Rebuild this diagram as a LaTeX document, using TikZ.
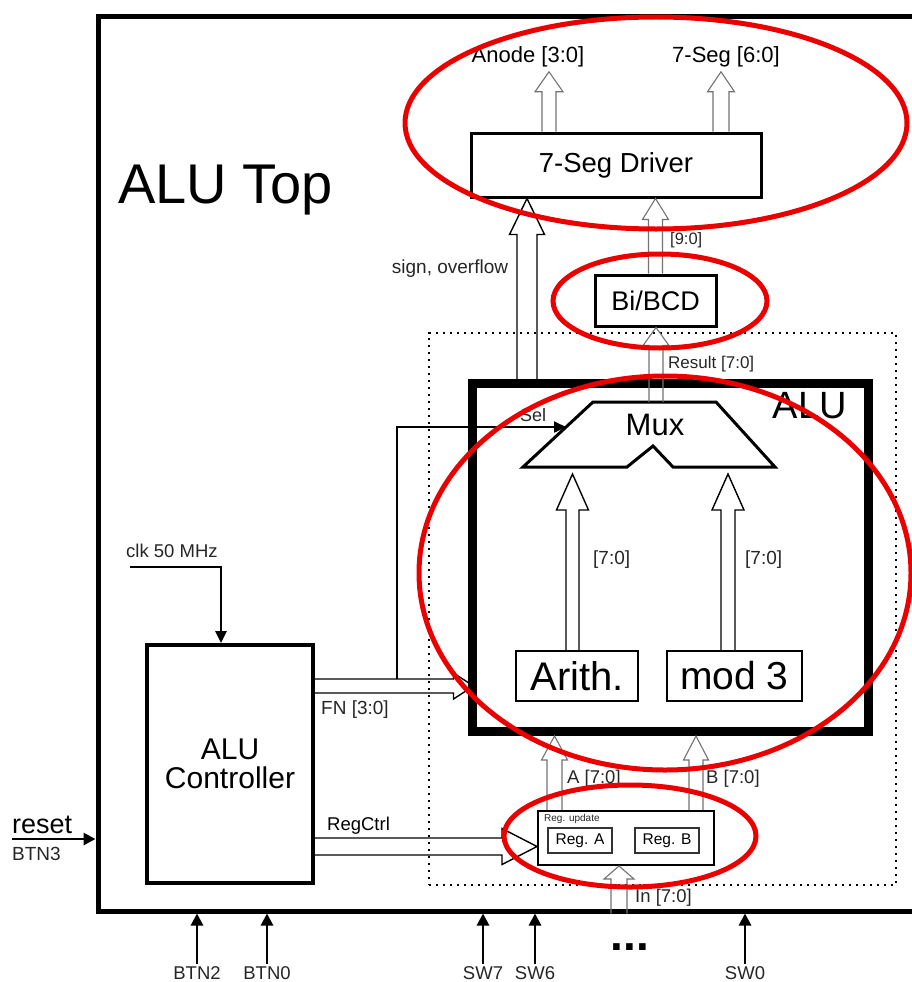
\documentclass[tikz,border=0pt]{standalone}
\usepackage{fontspec}
\setmainfont{Liberation Sans}
\usetikzlibrary{arrows.meta,calc}
\definecolor{annotred}{RGB}{235,0,0}
\newcommand\fsz[1]{\fontsize{#1}{#1}\selectfont}
% vertical upward hollow bus arrow: [style]{from}{to}{half shaft}{half head}{head length}
\newcommand\busup[6][busline]{\draw[#1] let \p1=#2, \p2=#3 in
  (\x1-#4pt,\y1) -- (\x1-#4pt,\y2-#6pt) -- (\x1-#5pt,\y2-#6pt) -- (\x1,\y2)
  -- (\x1+#5pt,\y2-#6pt) -- (\x1+#4pt,\y2-#6pt) -- (\x1+#4pt,\y1);}
% horizontal rightward hollow bus arrow
\newcommand\busright[6][busline]{\draw[#1] let \p1=#2, \p2=#3 in
  (\x1,\y1+#4pt) -- (\x2-#6pt,\y1+#4pt) -- (\x2-#6pt,\y1+#5pt) -- (\x2,\y1)
  -- (\x2-#6pt,\y1-#5pt) -- (\x2-#6pt,\y1-#4pt) -- (\x1,\y1-#4pt);}
\tikzset{
  busline/.style={draw=black!55, line width=1.1pt, line join=miter},
  busdark/.style={draw=black, line width=1.4pt, line join=miter},
  lbl/.style={inner sep=0pt, text=black!85},
  sig/.style={line width=2.8pt, -{Triangle[width=12pt,length=12pt]}},
  annot/.style={draw=annotred, line width=5pt},
  dotline/.style={draw, line width=2.5pt, dash pattern=on 2.2pt off 4.8pt},
}
\begin{document}
\begin{tikzpicture}[x=1pt,y=-1pt]
\fill[white] (0,0) rectangle (911,982);
\useasboundingbox (0,0) rectangle (911,982);

% outer block
\node[draw, line width=5pt, minimum width=840pt, minimum height=894pt, inner sep=0pt] (top) at (518,464) {};
\node[inner sep=0pt, anchor=base west, font=\fsz{56}] (toplbl) at (118,203) {ALU Top};

% dotted ALU region
\node[dotline, minimum width=467pt, minimum height=552pt, inner sep=0pt] (region) at (662.5,609) {};

% 7-seg driver
\node[draw, line width=3pt, minimum width=290pt, minimum height=64pt, inner sep=0pt, font=\fsz{27.5}] (drv) at (616,165) {7-Seg Driver};
\node[inner sep=0pt, anchor=base, font=\fsz{22}] (anode) at (528,63) {Anode [3:0]};
\node[inner sep=0pt, anchor=base, font=\fsz{22}] (sevseg) at (726,63) {7-Seg [6:0]};

% Bi/BCD
\node[draw, line width=3pt, minimum width=121pt, minimum height=51pt, inner sep=0pt, font=\fsz{27}] (bibcd) at (655.5,300.5) {Bi/BCD};

% ALU block
\node[draw, line width=9pt, minimum width=396pt, minimum height=348pt, inner sep=0pt] (alu) at (670,557.5) {};
\node[inner sep=0pt, anchor=base east, font=\fsz{38}] (alulbl) at (847,418) {ALU};

% Mux
\coordinate (mtl) at (593,402);
\coordinate (mtr) at (716,402);
\coordinate (mbr) at (775,467);
\coordinate (mnr) at (673,467);
\coordinate (mnp) at (653,446);
\coordinate (mnl) at (627,467);
\coordinate (mbl) at (523,467);
\draw[line width=3pt, line join=miter] (mtl) -- (mtr) -- (mbr) -- (mnr) -- (mnp) -- (mnl) -- (mbl) -- cycle;
\node[inner sep=0pt, anchor=base, font=\fsz{31}] (mux) at (655,435) {Mux};
\coordinate (muxtop) at (656,402);
\coordinate (seltip) at ($(mtl)!0.385!(mbl)$);

% Arith / mod 3
\node[draw, line width=2pt, minimum width=122pt, minimum height=50pt, inner sep=0pt, font=\fsz{40}] (arith) at (577,676) {Arith.};
\node[draw, line width=2pt, minimum width=135pt, minimum height=50pt, inner sep=0pt, font=\fsz{39}] (modt) at (734.5,676) {mod 3};

% Reg update
\node[draw, line width=2pt, minimum width=176pt, minimum height=54pt, inner sep=0pt] (regu) at (626,838) {};
\node[lbl, anchor=base west, font=\fsz{10}] (regulbl) at (544,821) {Reg. update};
\node[draw=black!80, line width=1.2pt, minimum width=64pt, minimum height=25pt, inner sep=0pt, font=\fsz{15.5}] (rega) at (580,840.5) {Reg. A};
\node[draw=black!80, line width=1.2pt, minimum width=64pt, minimum height=25pt, inner sep=0pt, font=\fsz{15.5}] (regb) at (667,840.5) {Reg. B};

% ALU controller
\node[draw, line width=4pt, minimum width=166pt, minimum height=238pt, inner sep=0pt, align=center, font=\fontsize{30}{29}\selectfont] (ctrl) at (230,764) {ALU\\Controller};

% bus arrows
\busup{([xshift=-67pt]drv.north)}{([yshift=-4pt]anode.south)}{7}{14}{20}
\busup{([xshift=105pt]drv.north)}{([yshift=-4pt]sevseg.south)}{8}{13.5}{20}
\busup[busdark]{([xshift=-143pt]alu.north)}{(drv.south)}{10}{17.5}{36}
\busup{(bibcd.north)}{(drv.south)}{7}{13}{21}
\busup{(muxtop)}{(bibcd.south)}{7}{13}{18}
\busup[busdark]{([xshift=-4.5pt]arith.north)}{([yshift=-7pt]mbl)}{6.5}{16}{36}
\busup[busdark]{([xshift=-6.5pt]modt.north)}{([yshift=-7pt]mbl)}{7}{16}{36}
\busup{([xshift=-71.5pt]regu.north)}{(alu.south)}{7.5}{13}{24}
\busup{([xshift=70pt]regu.north)}{(alu.south)}{7}{12.5}{24}
\coordinate (inbot) at (regu.south |- top.south);
\busup{([xshift=-7pt]inbot)}{(regu.south)}{8}{15}{13}
\busright[busdark]{([yshift=78pt]ctrl.east)}{([xshift=6pt]alu.west)}{7}{13}{20}
\busright[busdark]{([yshift=-82.5pt]ctrl.east)}{(regu.west)}{8.5}{18}{35}

% bus labels
\node[lbl, anchor=base, font=\fsz{19}] (signlbl) at (450,273) {sign, overflow};
\node[lbl, anchor=base west, font=\fsz{16.5}] (b90) at (670,244) {[9:0]};
\node[lbl, anchor=base west, font=\fsz{17}] (reslbl) at (668,368) {Result [7:0]};
\node[lbl, anchor=base west, font=\fsz{19}] (ar70) at (593,564) {[7:0]};
\node[lbl, anchor=base west, font=\fsz{19}] (md70) at (745,564) {[7:0]};
\node[lbl, anchor=base west, font=\fsz{18.5}] (albl) at (567,783) {A [7:0]};
\node[lbl, anchor=base west, font=\fsz{18.5}] (blbl) at (706,783) {B [7:0]};
\node[lbl, anchor=base west, font=\fsz{18.5}] (inlbl) at (635,902) {In [7:0]};
\node[lbl, anchor=base west, font=\fsz{19}] (fnlbl) at (321,714) {FN [3:0]};
\node[inner sep=0pt, anchor=base west, font=\fsz{18.5}] (rclbl) at (327,830) {RegCtrl};

% Sel
\coordinate (selsrc) at (397,679);
\draw[line width=2pt, -{Triangle[width=11pt,length=12pt]}] (selsrc) |- (seltip);
\node[lbl, anchor=base west, font=\fsz{18}] (sellbl) at (520,421) {Sel};

% clock
\node[lbl, anchor=base west, font=\fsz{18.5}] (clklbl) at (126,557) {clk 50 MHz};
\coordinate (clksrc) at (130,567);
\coordinate (clkdst) at ([xshift=-9pt]ctrl.north);
\draw[line width=2.5pt, -{Triangle[width=11pt,length=12pt]}] (clksrc) -| (clkdst);

% reset
\node[inner sep=0pt, anchor=base west, font=\fsz{27}] (rstlbl) at (12,833) {reset};
\node[lbl, anchor=base west, font=\fsz{19}] (btn3) at (12,860) {BTN3};
\coordinate (rstsrc) at (12,839);
\draw[sig] (rstsrc) -- (rstsrc -| top.west);

% bottom inputs
\node[lbl, anchor=base, font=\fsz{18.5}] (btn2) at (197,979) {BTN2};
\node[lbl, anchor=base, font=\fsz{18.5}] (btn0) at (267,979) {BTN0};
\node[lbl, anchor=base, font=\fsz{18.5}] (sw7) at (483,979) {SW7};
\node[lbl, anchor=base, font=\fsz{18.5}] (sw6) at (535,979) {SW6};
\node[lbl, anchor=base, font=\fsz{18.5}] (sw0) at (745,979) {SW0};
\node[inner sep=0pt, anchor=base, font=\fsz{46}\bfseries] (dots) at (630,950) {...};
\foreach \n in {btn2,btn0,sw7,sw6,sw0}{
  \draw[sig] ([yshift=2pt]\n.north) -- (\n.north |- top.south);
}

% red annotation ellipses
\draw[annot] (656,123) ellipse [x radius=251pt, y radius=106pt];
\draw[annot] (660,301) ellipse [x radius=107pt, y radius=47pt];
\draw[annot] (665,573) ellipse [x radius=246pt, y radius=197pt];
\draw[annot] (630,836) ellipse [x radius=126pt, y radius=51pt];
\end{tikzpicture}
\end{document}
